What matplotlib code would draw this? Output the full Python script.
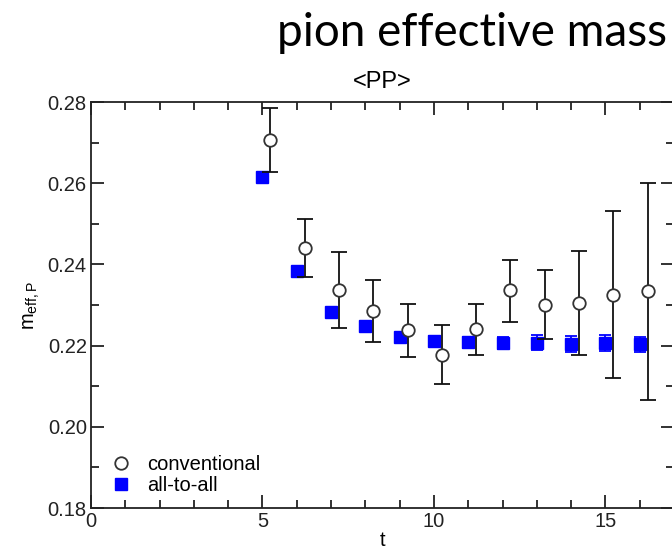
import matplotlib
matplotlib.use("Agg")
import matplotlib.pyplot as plt
from matplotlib.lines import Line2D
from matplotlib.ticker import MultipleLocator

# conventional (open circles), plotted slightly right of the integer t
t_conv = [5, 6, 7, 8, 9, 10, 11, 12, 13, 14, 15, 16]
m_conv = [0.2706, 0.2440, 0.2337, 0.2286, 0.2238, 0.2178,
          0.2241, 0.2336, 0.2301, 0.2306, 0.2324, 0.2335]
conv_hi = [0.2784, 0.2511, 0.2430, 0.2362, 0.2303, 0.2251,
           0.2303, 0.2411, 0.2385, 0.2434, 0.2532, 0.2601]
conv_lo = [0.2627, 0.2370, 0.2243, 0.2209, 0.2173, 0.2105,
           0.2178, 0.2258, 0.2216, 0.2178, 0.2119, 0.2067]

# all-to-all (filled squares)
t_a2a = [5, 6, 7, 8, 9, 10, 11, 12, 13, 14, 15, 16]
m_a2a = [0.2615, 0.2383, 0.2283, 0.2249, 0.2221, 0.2212,
         0.2208, 0.2206, 0.2207, 0.2204, 0.2206, 0.2203]
a2a_err = [0.0004, 0.0005, 0.0008, 0.0010, 0.0011, 0.0012,
           0.0013, 0.0014, 0.0019, 0.0019, 0.0020, 0.0019]

SHIFT = 0.23

plt.rcParams['font.family'] = ['Liberation Sans', 'DejaVu Sans']
plt.rcParams['mathtext.fontset'] = 'custom'
plt.rcParams['mathtext.rm'] = 'Liberation Sans'
plt.rcParams['mathtext.it'] = 'Liberation Sans:italic'

fig = plt.figure(figsize=(6.72, 5.49), dpi=100)
ax = fig.add_axes([91 / 672, 1 - 508 / 549, 583 / 672, 406 / 549])

x_conv = [t + SHIFT for t in t_conv]
yerr_conv = [[m - lo for m, lo in zip(m_conv, conv_lo)],
             [hi - m for m, hi in zip(m_conv, conv_hi)]]

ax.errorbar(t_a2a, m_a2a, yerr=a2a_err, fmt='s', color='#0000ff',
            ms=8.5, mec='#0000ff', mfc='#0000ff', ecolor='#0000ff',
            elinewidth=1.3, capsize=4.3, capthick=1.3, zorder=3)
ax.errorbar(x_conv, m_conv, yerr=yerr_conv, fmt='o', color='#222222',
            ms=9, mfc='white', mec='#333333', mew=1.3, ecolor='#111111',
            elinewidth=1.3, capsize=5.5, capthick=1.3, zorder=4)

ax.set_xlim(0, 17)
ax.set_ylim(0.18, 0.28)
ax.xaxis.set_major_locator(MultipleLocator(5))
ax.xaxis.set_minor_locator(MultipleLocator(1))
ax.yaxis.set_major_locator(MultipleLocator(0.02))
ax.yaxis.set_minor_locator(MultipleLocator(0.01))
ax.yaxis.set_major_formatter(plt.FormatStrFormatter('%.2f'))
ax.tick_params(which='both', direction='in', top=True, right=True,
               labelsize=14.5, width=1.3, colors='#222222', pad=3)
ax.tick_params(which='major', length=9.5)
ax.tick_params(which='minor', length=5.5)
for sp in ax.spines.values():
    sp.set_linewidth(1.3)
    sp.set_color('#222222')

ax.set_xlabel('t', fontsize=14.5, labelpad=0)
ax.set_ylabel(r'm$_{\rm eff,P}$', fontsize=14.5, labelpad=4)
ax.set_title('<PP>', fontsize=17, pad=10)

handles = [
    Line2D([], [], ls='none', marker='o', ms=9, mfc='white',
           mec='#333333', mew=1.3),
    Line2D([], [], ls='none', marker='s', ms=8.5, mfc='#0000ff',
           mec='#0000ff'),
]
ax.legend(handles, ['conventional', 'all-to-all'], loc='lower left',
          frameon=False, fontsize=14.5, handlelength=0.8,
          handletextpad=0.9, labelspacing=0.1, borderaxespad=0.3,
          bbox_to_anchor=(0.013, -0.003))

fig.text(0.703, 0.939, 'pion effective mass', fontsize=33, family='Lato',
         ha='center', va='center')

fig.savefig('out.png', dpi=100)
